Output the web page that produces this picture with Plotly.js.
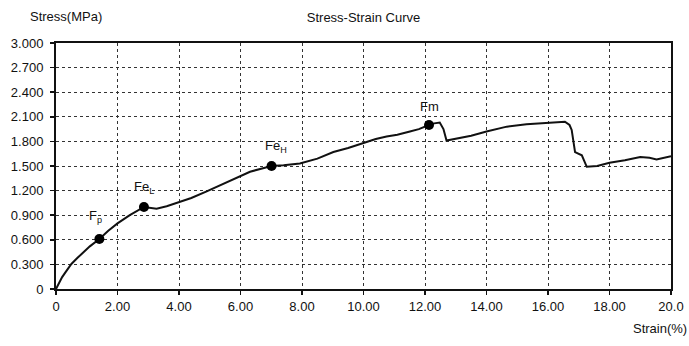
<!DOCTYPE html>
<html><head><meta charset="utf-8">
<script src="https://cdn.plot.ly/plotly-3.0.1.min.js"></script>
<style>html,body{margin:0;padding:0;background:#fff}</style>
</head><body><div id="chart" style="width:689px;height:346px"></div>
<script>
const strain = [0, 0.1, 0.2, 0.3, 0.4, 0.5, 0.7, 0.9, 1.1, 1.41, 1.7, 2.0, 2.4, 2.86, 3.05, 3.27, 3.6, 4.03, 4.4, 4.9, 5.3, 5.77, 6.31, 6.7, 7.01, 7.4, 7.93, 8.5, 9.02, 9.5, 9.99, 10.4, 10.75, 11.1, 11.51, 11.8, 12.13, 12.3, 12.48, 12.6, 12.7, 13.0, 13.5, 14.0, 14.66, 15.3, 15.96, 16.3, 16.55, 16.7, 16.77, 16.88, 17.1, 17.26, 17.6, 18.0, 18.5, 19.0, 19.3, 19.53, 20.0];
const stress = [0, 0.075, 0.145, 0.20, 0.26, 0.305, 0.38, 0.45, 0.52, 0.61, 0.71, 0.80, 0.90, 1.00, 0.99, 0.98, 1.01, 1.06, 1.11, 1.19, 1.26, 1.34, 1.43, 1.47, 1.50, 1.51, 1.53, 1.59, 1.67, 1.72, 1.78, 1.83, 1.86, 1.88, 1.92, 1.95, 2.00, 2.02, 2.03, 1.95, 1.81, 1.83, 1.87, 1.92, 1.98, 2.01, 2.03, 2.04, 2.04, 2.00, 1.94, 1.67, 1.63, 1.49, 1.50, 1.54, 1.57, 1.61, 1.60, 1.58, 1.62];
const pointNames = ['F<sub>p</sub>', 'Fe<sub>L</sub>', 'Fe<sub>H</sub>', 'Fm'];
const pointStrain = [1.41, 2.86, 7.01, 12.13];
const pointStress = [0.61, 1.00, 1.50, 2.00];
const xTickVals = [0, 2, 4, 6, 8, 10, 12, 14, 16, 18, 20];
const xTickText = ['0', '2.00', '4.00', '6.00', '8.00', '10.00', '12.00', '14.00', '16.00', '18.00', '20.0'];
const yTickVals = [0, 0.3, 0.6, 0.9, 1.2, 1.5, 1.8, 2.1, 2.4, 2.7, 3.0];
const yTickText = ['0', '0.300', '0.600', '0.900', '1.200', '1.500', '1.800', '2.100', '2.400', '2.700', '3.000'];

const FONT = 'Liberation Sans Narrow, Arial Narrow, Liberation Sans, Arial, sans-serif';

const traces = [
  {x: strain, y: stress, mode: 'lines', line: {color: '#111', width: 2}, hoverinfo: 'skip'},
  {x: pointStrain, y: pointStress, mode: 'markers', marker: {color: '#000', size: 10}, hoverinfo: 'skip'}
];

const labelShift = [[-4, 22], [0, 20], [4, 20], [0, 19]];
const annotations = pointNames.map((t, i) => ({
  x: pointStrain[i], y: pointStress[i], xref: 'x', yref: 'y', text: t, showarrow: false,
  xshift: labelShift[i][0], yshift: labelShift[i][1],
  font: {family: FONT, size: 13, color: '#111'}
}));
annotations.push({xref: 'paper', yref: 'paper', x: -0.045, y: 1.07, xanchor: 'left', yanchor: 'bottom',
  text: 'Stress(MPa)', showarrow: false, font: {family: FONT, size: 13, color: '#111'}});
annotations.push({xref: 'paper', yref: 'paper', x: 1.03, y: -0.12, xanchor: 'right', yanchor: 'top',
  text: 'Strain(%)', showarrow: false, font: {family: FONT, size: 13, color: '#111'}});

const axisCommon = {
  showline: true, linecolor: '#111', linewidth: 2, mirror: true,
  showgrid: true, gridcolor: '#333', gridwidth: 1, griddash: '3px,3px',
  ticks: 'outside', ticklen: 4, tickcolor: '#111', tickwidth: 1.5,
  zeroline: false, tickfont: {family: FONT, size: 13, color: '#111'}
};

const layout = {
  width: 689, height: 346,
  margin: {l: 56, r: 18, t: 43, b: 57},
  paper_bgcolor: '#fff', plot_bgcolor: '#fff',
  showlegend: false,
  title: {text: 'Stress-Strain Curve', x: 0.5, xref: 'paper', y: 0.95, yanchor: 'middle',
    font: {family: FONT, size: 13, color: '#111'}},
  xaxis: Object.assign({}, axisCommon, {range: [0, 20], tickvals: xTickVals, ticktext: xTickText}),
  yaxis: Object.assign({}, axisCommon, {range: [0, 3], tickvals: yTickVals, ticktext: yTickText, ticklabelstandoff: 4}),
  annotations: annotations
};

Plotly.newPlot('chart', traces, layout, {displayModeBar: false, staticPlot: true});
</script>
</body></html>
